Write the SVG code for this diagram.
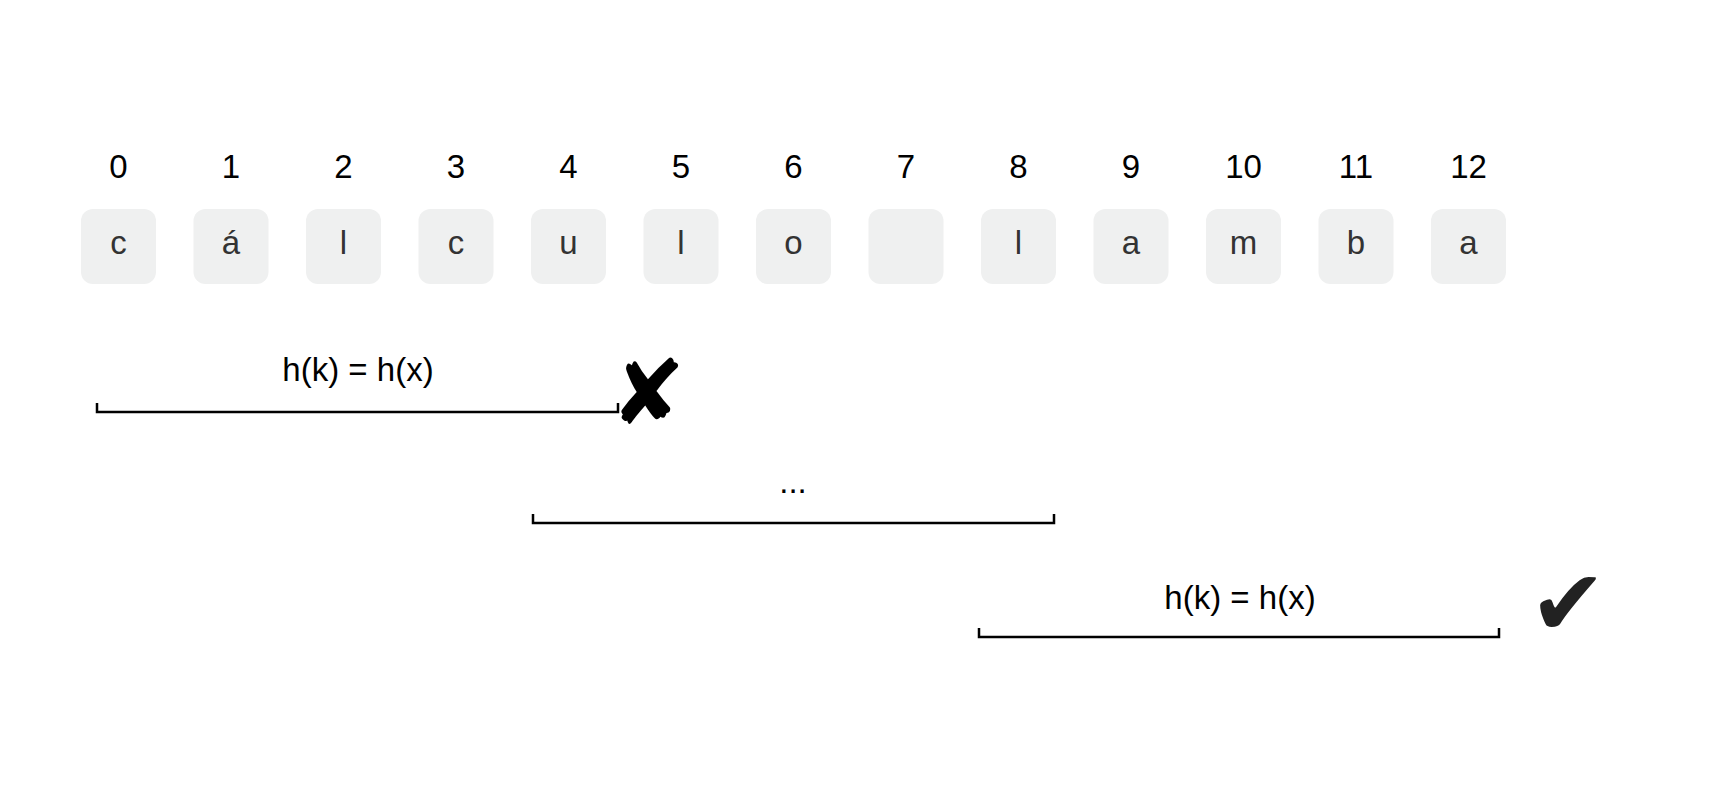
<svg xmlns="http://www.w3.org/2000/svg" width="1723" height="801" viewBox="0 0 1723 801">
<style>
.cell{fill:#eff0f0;}
.idx{font-family:"Liberation Sans",Arial,sans-serif;font-size:33px;fill:#000;text-anchor:middle;}
.ch{font-family:"Liberation Sans",Arial,sans-serif;font-size:33px;fill:#333;text-anchor:middle;}
.lbl{font-family:"Liberation Sans",Arial,sans-serif;font-size:33px;fill:#000;text-anchor:middle;}
.br{fill:none;stroke:#000;stroke-width:2.5;}
.sym{font-family:"DejaVu Sans",sans-serif;text-anchor:middle;}
</style>
<rect width="1723" height="801" fill="#fff"/>
<g id="cell0"><text class="idx" x="118.5" y="178">0</text><rect class="cell" x="81" y="209" width="75" height="75" rx="12"/><text class="ch" x="118.5" y="254">c</text></g>
<g id="cell1"><text class="idx" x="231" y="178">1</text><rect class="cell" x="193.5" y="209" width="75" height="75" rx="12"/><text class="ch" x="231" y="254">á</text></g>
<g id="cell2"><text class="idx" x="343.5" y="178">2</text><rect class="cell" x="306" y="209" width="75" height="75" rx="12"/><text class="ch" x="343.5" y="254">l</text></g>
<g id="cell3"><text class="idx" x="456" y="178">3</text><rect class="cell" x="418.5" y="209" width="75" height="75" rx="12"/><text class="ch" x="456" y="254">c</text></g>
<g id="cell4"><text class="idx" x="568.5" y="178">4</text><rect class="cell" x="531" y="209" width="75" height="75" rx="12"/><text class="ch" x="568.5" y="254">u</text></g>
<g id="cell5"><text class="idx" x="681" y="178">5</text><rect class="cell" x="643.5" y="209" width="75" height="75" rx="12"/><text class="ch" x="681" y="254">l</text></g>
<g id="cell6"><text class="idx" x="793.5" y="178">6</text><rect class="cell" x="756" y="209" width="75" height="75" rx="12"/><text class="ch" x="793.5" y="254">o</text></g>
<g id="cell7"><text class="idx" x="906" y="178">7</text><rect class="cell" x="868.5" y="209" width="75" height="75" rx="12"/></g>
<g id="cell8"><text class="idx" x="1018.5" y="178">8</text><rect class="cell" x="981" y="209" width="75" height="75" rx="12"/><text class="ch" x="1018.5" y="254">l</text></g>
<g id="cell9"><text class="idx" x="1131" y="178">9</text><rect class="cell" x="1093.5" y="209" width="75" height="75" rx="12"/><text class="ch" x="1131" y="254">a</text></g>
<g id="cell10"><text class="idx" x="1243.5" y="178">10</text><rect class="cell" x="1206" y="209" width="75" height="75" rx="12"/><text class="ch" x="1243.5" y="254">m</text></g>
<g id="cell11"><text class="idx" x="1356" y="178">11</text><rect class="cell" x="1318.5" y="209" width="75" height="75" rx="12"/><text class="ch" x="1356" y="254">b</text></g>
<g id="cell12"><text class="idx" x="1468.5" y="178">12</text><rect class="cell" x="1431" y="209" width="75" height="75" rx="12"/><text class="ch" x="1468.5" y="254">a</text></g>
<g id="connectors">
<path class="br" d="M97 403 V412 H618 V403"/>
<path class="br" d="M533 514 V523 H1054 V514"/>
<path class="br" d="M979 628 V637 H1499 V628"/>
</g>
<g id="window1"><text class="lbl" x="358" y="381">h(k) = h(x)</text><text class="sym" x="648" y="424" font-size="90" fill="#000">✘</text></g>
<g id="window2"><text class="lbl" x="793" y="493">...</text></g>
<g id="window3"><text class="lbl" x="1240" y="609">h(k) = h(x)</text><text class="sym" x="1568" y="635" font-size="92" fill="#222">✔</text></g>
</svg>
